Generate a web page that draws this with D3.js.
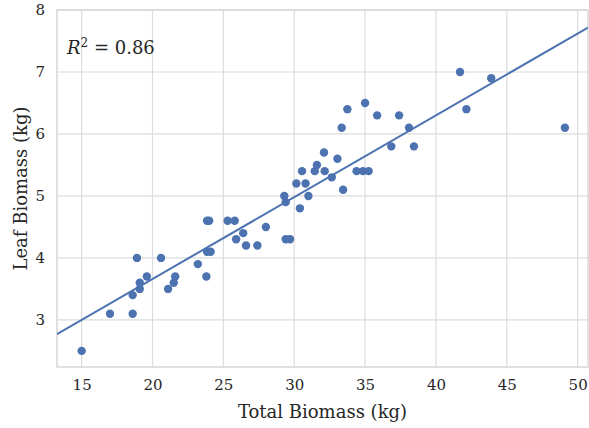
<!DOCTYPE html>
<html>
<head>
<meta charset="utf-8">
<script src="https://cdn.jsdelivr.net/npm/d3@7"></script>
<style>
  body { margin: 0; background: #fff; }
  text { font-family: "DejaVu Serif", "Liberation Serif", serif; fill: #262626; }
</style>
</head>
<body>
<div id="chart"></div>
<script>
// total biomass (kg) and leaf biomass (kg)
let total_biomass = [15.0, 17.0, 18.6, 18.6, 18.9, 19.1, 19.1, 19.6, 20.6, 21.1,
  21.5, 21.6, 23.2, 23.8, 23.85, 23.85, 24.0, 24.1, 25.3, 25.8,
  25.9, 26.4, 26.6, 27.4, 28.0, 29.3, 29.4, 29.4, 29.7, 30.15,
  30.4, 30.55, 30.8, 31.0, 31.45, 31.6, 32.1, 32.15, 32.65, 33.05,
  33.35, 33.45, 33.75, 34.4, 34.85, 35.0, 35.25, 35.85, 36.85, 37.4,
  38.1, 38.45, 41.7, 42.15, 43.9, 49.1];
let leaf_biomass = [2.5, 3.1, 3.1, 3.4, 4.0, 3.5, 3.6, 3.7, 4.0, 3.5,
  3.6, 3.7, 3.9, 3.7, 4.1, 4.6, 4.6, 4.1, 4.6, 4.6,
  4.3, 4.4, 4.2, 4.2, 4.5, 5.0, 4.9, 4.3, 4.3, 5.2,
  4.8, 5.4, 5.2, 5.0, 5.4, 5.5, 5.7, 5.4, 5.3, 5.6,
  6.1, 5.1, 6.4, 5.4, 5.4, 6.5, 5.4, 6.3, 5.8, 6.3,
  6.1, 5.8, 7.0, 6.4, 6.9, 6.1];

// fitted line, intercept and slope
let fit_intercept = 1.02;
let fit_slope = 0.132;
let r_squared = "0.86";

let x_ticks = [15, 20, 25, 30, 35, 40, 45, 50];
let y_ticks = [3, 4, 5, 6, 7, 8];
let x_domain = [13.26, 50.73];
let y_domain = [2.24, 8];

let width = 589, height = 428;
let margin = {left: 57, top: 10, right: 1, bottom: 61};

let svg = d3.select("#chart").append("svg")
  .attr("width", width)
  .attr("height", height);

let scalex = d3.scaleLinear().domain(x_domain).range([margin.left, width - margin.right]);
let scaley = d3.scaleLinear().domain(y_domain).range([height - margin.bottom, margin.top]);

// grid
svg.append("g")
  .selectAll("line")
  .data(x_ticks)
  .enter()
  .append("line")
  .attr("x1", d => scalex(d)).attr("x2", d => scalex(d))
  .attr("y1", scaley.range()[0]).attr("y2", scaley.range()[1])
  .attr("stroke", "#dcdcdc").attr("stroke-width", 1.2);

svg.append("g")
  .selectAll("line")
  .data(y_ticks)
  .enter()
  .append("line")
  .attr("y1", d => scaley(d)).attr("y2", d => scaley(d))
  .attr("x1", scalex.range()[0]).attr("x2", scalex.range()[1])
  .attr("stroke", "#dcdcdc").attr("stroke-width", 1.2);

// frame
svg.append("rect")
  .attr("x", margin.left)
  .attr("y", margin.top)
  .attr("width", width - margin.left - margin.right)
  .attr("height", height - margin.top - margin.bottom)
  .attr("fill", "none")
  .attr("stroke", "#d4d4d4")
  .attr("stroke-width", 1.4);

// axes (labels only)
let x_axis = d3.axisBottom(scalex).tickValues(x_ticks).tickSize(0).tickPadding(12).tickFormat(d3.format("d"));
svg.append("g")
  .attr("transform", "translate(0," + scaley.range()[0] + ")")
  .call(x_axis)
  .call(g => g.select(".domain").remove())
  .selectAll("text")
  .style("font-family", "DejaVu Serif, serif")
  .style("font-size", "15px")
  .attr("fill", "#262626");

let y_axis = d3.axisLeft(scaley).tickValues(y_ticks).tickSize(0).tickPadding(12).tickFormat(d3.format("d"));
svg.append("g")
  .attr("transform", "translate(" + margin.left + ",0)")
  .call(y_axis)
  .call(g => g.select(".domain").remove())
  .selectAll("text")
  .style("font-family", "DejaVu Serif, serif")
  .style("font-size", "15px")
  .attr("fill", "#262626");

// points
let points = total_biomass.map((v, i) => [v, leaf_biomass[i]]);

svg.append("clipPath").attr("id", "plotclip")
  .append("rect")
  .attr("x", margin.left).attr("y", margin.top)
  .attr("width", width - margin.left - margin.right)
  .attr("height", height - margin.top - margin.bottom);

svg.selectAll("dot")
  .data(points)
  .enter()
  .append("circle")
  .attr("r", 4.2)
  .attr("cx", d => scalex(d[0]))
  .attr("cy", d => scaley(d[1]))
  .style("fill", "#4c72b0");

// regression line
let line = d3.line()
  .x(d => scalex(d))
  .y(d => scaley(fit_intercept + fit_slope * d));

svg.append("path")
  .attr("clip-path", "url(#plotclip)")
  .attr("d", line(x_domain))
  .attr("stroke", "#4c72b0")
  .attr("stroke-width", 2)
  .attr("fill", "none");

// R^2 annotation
let r2 = svg.append("text")
  .attr("x", 67)
  .attr("y", 54)
  .style("font-size", "18px");
r2.append("tspan").style("font-style", "italic").text("R");
r2.append("tspan").attr("dy", -7).style("font-size", "12px").text("2");
r2.append("tspan").attr("dy", 7).text(" = " + r_squared);

// axis titles
svg.append("text")
  .attr("x", (scalex.range()[0] + scalex.range()[1]) / 2)
  .attr("y", 418)
  .attr("text-anchor", "middle")
  .style("font-size", "18px")
  .text("Total Biomass (kg)");

svg.append("text")
  .attr("transform", "translate(27," + ((scaley.range()[0] + scaley.range()[1]) / 2) + ") rotate(-90)")
  .attr("text-anchor", "middle")
  .style("font-size", "18px")
  .text("Leaf Biomass (kg)");
</script>
</body>
</html>
